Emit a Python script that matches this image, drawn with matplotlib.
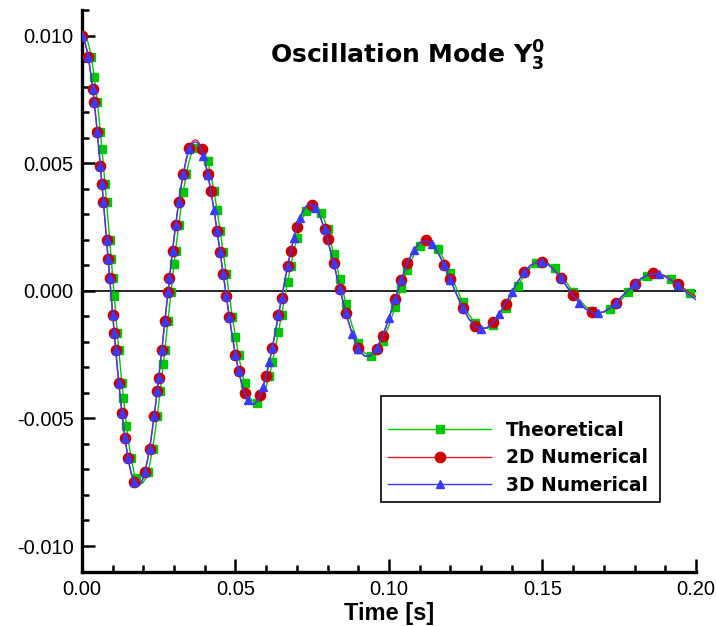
import numpy as np
import matplotlib
matplotlib.use("Agg")
import matplotlib.pyplot as plt
from matplotlib.ticker import MultipleLocator, FormatStrFormatter

# sample times [s]: fine where the curve is steep, coarser later
t = np.r_[np.linspace(0.0, 0.04, 81), np.linspace(0.041, 0.08, 40), np.linspace(0.082, 0.2, 60)]

theoretical = [
    # 0.0000 .. 0.0400 (every 0.0005)
    0.01000, 0.00999, 0.00996, 0.00989, 0.00972, 0.00948, 0.00917, 0.00881, 0.00838, 0.00791,
    0.00739, 0.00682, 0.00621, 0.00556, 0.00489, 0.00419, 0.00348, 0.00274, 0.00200, 0.00126,
    0.00052, -0.00022, -0.00094, -0.00165, -0.00233, -0.00299, -0.00362, -0.00421, -0.00477, -0.00528,
    -0.00575, -0.00617, -0.00654, -0.00686, -0.00713, -0.00734, -0.00745, -0.00752, -0.00756, -0.00755,
    -0.00750, -0.00740, -0.00731, -0.00709, -0.00683, -0.00653, -0.00618, -0.00580, -0.00537, -0.00492,
    -0.00444, -0.00394, -0.00341, -0.00287, -0.00232, -0.00175, -0.00119, -0.00062, -0.00006, 0.00050,
    0.00104, 0.00157, 0.00208, 0.00257, 0.00303, 0.00347, 0.00387, 0.00424, 0.00458, 0.00488,
    0.00512, 0.00532, 0.00548, 0.00560, 0.00567, 0.00571, 0.00572, 0.00569, 0.00562, 0.00552,
    0.00540,
    # 0.041 .. 0.080 (every 0.001)
    0.00507, 0.00454, 0.00389, 0.00316, 0.00236, 0.00151, 0.00065, -0.00021, -0.00104, -0.00181,
    -0.00251, -0.00313, -0.00363, -0.00402, -0.00424, -0.00437, -0.00438, -0.00427, -0.00410, -0.00376,
    -0.00332, -0.00281, -0.00223, -0.00161, -0.00095, -0.00030, 0.00035, 0.00097, 0.00155, 0.00207,
    0.00251, 0.00287, 0.00314, 0.00331, 0.00339, 0.00337, 0.00326, 0.00305, 0.00277, 0.00242,
    # 0.082 .. 0.200 (every 0.002)
    0.00145, 0.00048, -0.00050, -0.00136, -0.00203, -0.00243, -0.00255, -0.00238, -0.00196, -0.00135,
    -0.00063, 0.00012, 0.00082, 0.00139, 0.00177, 0.00194, 0.00189, 0.00163, 0.00121, 0.00068,
    0.00010, -0.00045, -0.00092, -0.00127, -0.00145, -0.00147, -0.00133, -0.00104, -0.00066, -0.00023,
    0.00020, 0.00059, 0.00089, 0.00107, 0.00113, 0.00106, 0.00088, 0.00062, 0.00030, -0.00004,
    -0.00035, -0.00061, -0.00078, -0.00086, -0.00084, -0.00073, -0.00055, -0.00031, -0.00006, 0.00019,
    0.00040, 0.00056, 0.00064, 0.00065, 0.00059, 0.00047, 0.00030, 0.00011, -0.00008, -0.00025,
]

num_2d = [
    0.01000, 0.00989, 0.00972, 0.00948, 0.00917, 0.00881, 0.00838, 0.00791, 0.00739, 0.00682,
    0.00621, 0.00556, 0.00489, 0.00419, 0.00348, 0.00274, 0.00200, 0.00126, 0.00052, -0.00022,
    -0.00094, -0.00165, -0.00233, -0.00299, -0.00362, -0.00421, -0.00477, -0.00528, -0.00575, -0.00617,
    -0.00654, -0.00686, -0.00713, -0.00734, -0.00750, -0.00760, -0.00765, -0.00764, -0.00758, -0.00747,
    -0.00731, -0.00709, -0.00683, -0.00653, -0.00618, -0.00580, -0.00537, -0.00492, -0.00444, -0.00394,
    -0.00341, -0.00287, -0.00232, -0.00175, -0.00119, -0.00062, -0.00006, 0.00050, 0.00104, 0.00157,
    0.00208, 0.00257, 0.00303, 0.00347, 0.00387, 0.00424, 0.00458, 0.00488, 0.00518, 0.00541,
    0.00560, 0.00575, 0.00585, 0.00590, 0.00591, 0.00589, 0.00582, 0.00571, 0.00556, 0.00537,
    0.00514,
    0.00457, 0.00392, 0.00317, 0.00236, 0.00151, 0.00065, -0.00021, -0.00104, -0.00181, -0.00251,
    -0.00313, -0.00363, -0.00402, -0.00429, -0.00443, -0.00444, -0.00433, -0.00410, -0.00376, -0.00332,
    -0.00281, -0.00223, -0.00161, -0.00095, -0.00030, 0.00035, 0.00097, 0.00155, 0.00207, 0.00251,
    0.00287, 0.00314, 0.00331, 0.00339, 0.00337, 0.00326, 0.00305, 0.00277, 0.00242, 0.00201,
    0.00108, 0.00008, -0.00088, -0.00168, -0.00226, -0.00255, -0.00255, -0.00227, -0.00176, -0.00108,
    -0.00033, 0.00042, 0.00109, 0.00159, 0.00189, 0.00197, 0.00183, 0.00149, 0.00102, 0.00045,
    -0.00013, -0.00066, -0.00109, -0.00138, -0.00150, -0.00145, -0.00124, -0.00091, -0.00050, -0.00006,
    0.00037, 0.00073, 0.00099, 0.00113, 0.00113, 0.00102, 0.00079, 0.00050, 0.00016, -0.00017,
    -0.00047, -0.00070, -0.00084, -0.00088, -0.00082, -0.00067, -0.00046, -0.00021, 0.00004, 0.00028,
    0.00048, 0.00061, 0.00068, 0.00067, 0.00058, 0.00043, 0.00026, 0.00008, -0.00008, -0.00022,
]

num_3d = [
    0.01000, 0.00989, 0.00972, 0.00948, 0.00917, 0.00881, 0.00838, 0.00791, 0.00739, 0.00682,
    0.00621, 0.00556, 0.00489, 0.00419, 0.00348, 0.00274, 0.00200, 0.00126, 0.00052, -0.00022,
    -0.00094, -0.00165, -0.00233, -0.00299, -0.00362, -0.00421, -0.00477, -0.00528, -0.00575, -0.00617,
    -0.00654, -0.00686, -0.00713, -0.00734, -0.00750, -0.00760, -0.00765, -0.00764, -0.00758, -0.00747,
    -0.00731, -0.00709, -0.00683, -0.00653, -0.00618, -0.00580, -0.00537, -0.00492, -0.00444, -0.00394,
    -0.00341, -0.00287, -0.00232, -0.00175, -0.00119, -0.00062, -0.00006, 0.00050, 0.00104, 0.00157,
    0.00208, 0.00257, 0.00303, 0.00347, 0.00387, 0.00424, 0.00458, 0.00488, 0.00514, 0.00536,
    0.00554, 0.00568, 0.00577, 0.00582, 0.00583, 0.00581, 0.00573, 0.00563, 0.00548, 0.00529,
    0.00507,
    0.00454, 0.00389, 0.00316, 0.00236, 0.00151, 0.00065, -0.00021, -0.00104, -0.00181, -0.00251,
    -0.00313, -0.00363, -0.00402, -0.00429, -0.00443, -0.00444, -0.00433, -0.00410, -0.00376, -0.00332,
    -0.00281, -0.00223, -0.00161, -0.00095, -0.00030, 0.00035, 0.00097, 0.00155, 0.00207, 0.00251,
    0.00287, 0.00314, 0.00331, 0.00339, 0.00337, 0.00326, 0.00305, 0.00277, 0.00242, 0.00201,
    0.00107, 0.00007, -0.00089, -0.00169, -0.00227, -0.00256, -0.00255, -0.00226, -0.00175, -0.00107,
    -0.00032, 0.00042, 0.00108, 0.00158, 0.00188, 0.00196, 0.00182, 0.00148, 0.00101, 0.00044,
    -0.00014, -0.00067, -0.00110, -0.00139, -0.00150, -0.00144, -0.00123, -0.00090, -0.00049, -0.00006,
    0.00036, 0.00072, 0.00098, 0.00112, 0.00112, 0.00101, 0.00078, 0.00049, 0.00015, -0.00018,
    -0.00048, -0.00071, -0.00085, -0.00088, -0.00082, -0.00067, -0.00046, -0.00021, 0.00003, 0.00027,
    0.00047, 0.00060, 0.00066, 0.00064, 0.00055, 0.00040, 0.00021, 0.00002, -0.00018, -0.00035,
]

labels = ["Theoretical", "2D Numerical", "3D Numerical"]

plt.rcParams['axes.unicode_minus'] = False
plt.rcParams['mathtext.fontset'] = 'dejavusans'

fig = plt.figure(figsize=(7.16, 6.26), dpi=100)
ax = fig.add_axes([0.1145, 0.087, 0.8575, 0.897])

ax.axhline(0, color='black', lw=1.2, zorder=1)

l1, = ax.plot(t, theoretical, color='#00c800', lw=1.0, marker='s', ms=5.8,
              mec='#00c800', mfc='#00c800', label=labels[0], zorder=2)
l2, = ax.plot(t, num_2d, color='#dd2020', lw=1.0, marker='o', ms=7.4,
              mec='#cc0000', mfc='#cc0000', label=labels[1], zorder=3)
l3, = ax.plot(t, num_3d, color='#3a3aff', lw=1.0, marker='^', ms=6.0,
              mec='#3a3aff', mfc='#3a3aff', label=labels[2], zorder=4)

ax.set_xlim(0.0, 0.2)
ax.set_ylim(-0.011, 0.011)

for s in ['top', 'right']:
    ax.spines[s].set_visible(False)
for s in ['left', 'bottom']:
    ax.spines[s].set_linewidth(2.4)

ax.xaxis.set_major_locator(MultipleLocator(0.05))
ax.xaxis.set_minor_locator(MultipleLocator(0.01))
ax.yaxis.set_major_locator(MultipleLocator(0.005))
ax.yaxis.set_minor_locator(MultipleLocator(0.001))
ax.xaxis.set_major_formatter(FormatStrFormatter('%.2f'))
ax.yaxis.set_major_formatter(FormatStrFormatter('%.3f'))
ax.tick_params(which='both', direction='in', width=1.8, top=False, right=False)
ax.tick_params(which='major', length=9.5, pad=6, labelsize=14.5)
ax.tick_params(which='minor', length=5)
for lab in ax.get_xticklabels() + ax.get_yticklabels():
    lab.set_fontfamily('Liberation Sans')

ax.set_xlabel('Time [s]', fontsize=17, fontweight='bold', family='Liberation Sans', labelpad=2)

ax.text(0.53, 0.918, r'Oscillation Mode $\mathbf{Y}_{\mathbf{3}}^{\mathbf{0}}$', transform=ax.transAxes,
        ha='center', va='center', fontsize=18, fontweight='bold', family='DejaVu Sans')

leg = ax.legend(loc='upper left', bbox_to_anchor=(0.487, 0.0, 0.4545, 0.3125), mode='expand',
                borderaxespad=0,
                prop={'family': 'DejaVu Sans', 'weight': 'bold', 'size': 13.4},
                title=' ', title_fontsize=6.5, handlelength=5.5, handletextpad=0.8,
                labelspacing=0.45, borderpad=0.4, fancybox=False, framealpha=1,
                edgecolor='black')
leg.get_frame().set_linewidth(1.2)

# markers spaced along the curve like the original
for ln in (l1, l2, l3):
    ln.set_markevery(0.03)

fig.savefig('out.png', dpi=100)
